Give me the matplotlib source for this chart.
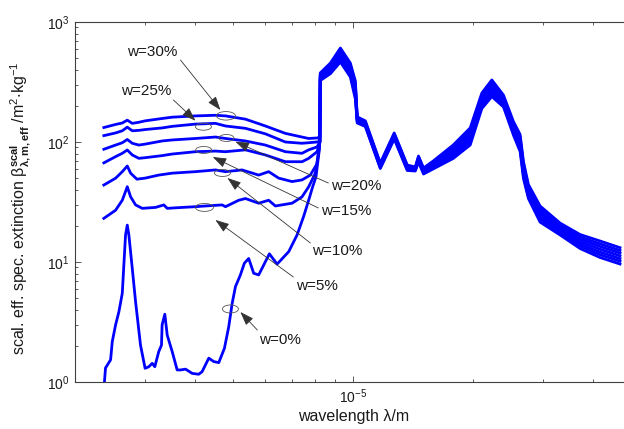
import numpy as np
import matplotlib
matplotlib.use('Agg')
import matplotlib.pyplot as plt
from matplotlib.patches import Ellipse
from matplotlib.transforms import ScaledTranslation
from matplotlib.ticker import LogLocator, NullFormatter, LogFormatterSciNotation

plt.rcParams['font.family'] = ['Liberation Sans', 'DejaVu Sans']
plt.rcParams['mathtext.fontset'] = 'custom'
plt.rcParams['mathtext.rm'] = 'Liberation Sans'
plt.rcParams['mathtext.it'] = 'Liberation Sans:italic'
plt.rcParams['mathtext.bf'] = 'Liberation Sans:bold'
plt.rcParams['mathtext.sf'] = 'Liberation Sans'
plt.rcParams['mathtext.default'] = 'regular'

# ---------------- data (wavelength in micrometres, beta in m^2/kg) ----------------
labels = ['w=0%', 'w=5%', 'w=10%', 'w=15%', 'w=20%', 'w=25%', 'w=30%']

# left part (below the ~8.25 um jump), individual per curve
wl0_left = [2.37, 2.386, 2.457, 2.481, 2.529, 2.578, 2.629, 2.653, 2.679, 2.706,
            2.731, 2.785, 2.839, 2.921, 3.0, 3.064, 3.126, 3.173, 3.246, 3.298,
            3.31, 3.362, 3.409, 3.509, 3.611, 3.681, 3.79, 3.938, 4.091, 4.172,
            4.335, 4.461, 4.593, 4.746, 4.866, 4.962, 5.058, 5.205, 5.326, 5.461,
            5.621, 5.785, 5.957, 6.155, 6.435, 6.884, 7.224, 7.504, 7.724, 7.905,
            8.06, 8.136, 8.217, 8.24]
w0_left = [0.98, 1.31, 1.53, 2.17, 2.99, 3.85, 5.49, 9.44, 16.8, 20.3,
           16.8, 8.85, 4.67, 2.03, 1.30, 1.34, 1.43, 1.34, 1.79, 2.03,
           2.99, 3.67, 2.46, 1.79, 1.26, 1.26, 1.28, 1.18, 1.16, 1.22,
           1.58, 1.48, 1.45, 1.91, 2.89, 4.5, 6.23, 7.8, 9.77, 10.7,
           8.06, 7.8, 9.44, 11.7, 9.6, 12.2, 16.8, 24, 32.7, 42.3,
           51.4, 66.4, 86, 105]

wl5_left = [2.363, 2.529, 2.629, 2.706, 2.758, 2.839, 2.951, 3.186, 3.343, 3.409,
            3.717, 4.014, 4.252, 4.685, 4.775, 5.155, 5.359, 5.785, 6.13, 6.372,
            7.018, 7.433, 7.724, 8.029, 8.145, 8.24]
w5_left = [23.1, 27, 32.7, 42.4, 35, 29.9, 28, 28.5, 29.9, 28,
           28.5, 28.9, 29.3, 29.9, 28.9, 32.7, 33.8, 30.9, 32.7, 29.3,
           30.9, 34.9, 42.3, 55, 75, 100]

wl10_left = [2.363, 2.529, 2.629, 2.706, 2.758, 2.861, 3.0, 3.246, 3.509, 4.014,
             4.506, 4.775, 5.257, 5.785, 6.13, 6.495, 7.018, 7.433, 7.8, 8.11, 8.24]
w10_left = [43.8, 49.9, 56.6, 63.1, 55, 49, 50, 53, 55, 56.6,
            58.5, 56.6, 58.5, 53, 56.6, 50, 46.8, 48.3, 53, 66, 100]

wl_hi_left = [2.363, 2.529, 2.629, 2.706, 2.785, 2.893, 3.0, 3.31, 3.509, 4.014,
              4.506, 4.775, 5.359, 6.013, 6.751, 7.433, 7.724, 8.11, 8.24]
w15_left = [67, 75.5, 80.5, 85.8, 78, 73.1, 74, 77, 79.4, 83, 84, 83, 86, 78, 68.5, 68.5, 73, 83, 100]
w20_left = [87, 94.3, 98.6, 105, 97.6, 94.3, 96, 102, 104, 107, 110, 107, 102, 94.3, 83, 80.5, 86, 91, 100]
w25_left = [113, 119, 124, 133, 124, 125, 127, 131, 135, 141, 143, 136, 130, 117, 100, 97.6, 98.6, 100, 102]
w30_left = [132, 140, 144, 152, 143, 146, 150, 157, 161, 165, 167, 165, 155, 136, 118, 110, 107, 108, 110]

# right part (above the jump), shared wavelength grid
wl_right = [8.26, 8.76, 9.28, 9.83, 10.12, 10.23, 10.72, 11.69, 12.67, 13.66,
            14.31, 14.58, 15.01, 15.87, 17.82, 19.66, 21.03, 22.28, 23.83, 25.25,
            26.24, 26.75, 27.53, 29.45, 33.06, 37.11, 41.66, 46.76]
w0_right = [325, 371, 464, 348, 228, 144, 134.6, 60.1, 106, 57.9, 57.3, 68.1, 54.1, 59.6,
            72.9, 94.4, 190, 239, 196, 114, 83.3, 49.6, 33.8, 21.5, 16.8, 12.96, 10.9, 9.62]
w5_right = [333.1, 384.1, 485.7, 364.3, 241.8, 146.9, 137.1, 61.2, 108.1, 58.9, 58.1, 69.4, 55.2, 61.2,
            76.2, 99.8, 199.9, 252.3, 203.7, 119.2, 88.1, 52.4, 35.4, 22.7, 17.5, 13.57, 11.5, 10.15]
w10_right = [341.0, 396.8, 507, 380.2, 255.5, 149.7, 139.5, 62.2, 110.1, 59.9, 58.8, 70.7, 56.2, 62.7,
             79.4, 105.2, 209.6, 265.6, 211.3, 124.2, 92.8, 55.3, 36.9, 23.8, 18.1, 14.16, 12.1, 10.67]
w15_right = [349.6, 411, 531, 398, 271, 153, 142, 63.4, 112.3, 61.0, 59.5, 72.1, 57.3, 64.3,
             83.0, 111.2, 220.5, 280.4, 219.6, 129.9, 98.1, 58.4, 38.7, 25.1, 18.8, 14.82, 12.77, 11.25]
w20_right = [358.3, 425.3, 555.5, 416.5, 287.4, 155.9, 144.7, 64.5, 114.5, 62.1, 60.3, 73.6, 58.4, 66.0,
             86.7, 117.6, 232.0, 296.1, 228.2, 135.8, 103.7, 61.7, 40.5, 26.5, 19.6, 15.51, 13.47, 11.87]
w25_right = [366.7, 439.4, 579.9, 434.7, 303.7, 158.8, 147.3, 65.6, 116.7, 63.2, 61.1, 74.9, 59.5, 67.6,
             90.3, 123.9, 243.3, 311.6, 236.7, 141.6, 109.3, 65.1, 42.2, 27.8, 20.3, 16.19, 14.17, 12.48]
w30_right = [376, 455, 607, 455, 322, 162, 150, 66.8, 119, 64.3, 61.9, 76.4, 60.7, 69.4,
             94.4, 131, 256, 329, 246, 148, 115.5, 68.8, 44.2, 29.3, 21.1, 16.95, 14.96, 13.16]

curves = [
    (wl0_left, w0_left, w0_right),
    (wl5_left, w5_left, w5_right),
    (wl10_left, w10_left, w10_right),
    (wl_hi_left, w15_left, w15_right),
    (wl_hi_left, w20_left, w20_right),
    (wl_hi_left, w25_left, w25_right),
    (wl_hi_left, w30_left, w30_right),
]

# annotation layout: (ellipse centre, arrow tip, arrow tail, text centre), in (um, beta)
ann_ellipse = [(4.913, 4.06), (4.228, 28.5), (4.692, 55.2), (4.210, 85.8), (4.802, 108), (4.203, 134.1), (4.787, 165.3)]
ann_tip = [(5.205, 3.83), (4.506, 22.4), (4.83, 50.1), (4.436, 75), (5.058, 100.6), (4.014, 150.5), (4.637, 184.8)]
ann_tail = [(5.742, 2.71), (7.071, 7.5), (7.8, 14.4), (8.169, 28.2), (8.656, 45.5), (3.534, 223.9), (3.681, 482)]
ann_text = [(6.558, 2.24), (8.122, 6.31), (9.117, 12.35), (9.604, 26.6), (10.17, 43.0), (3.025, 263.6), (3.131, 562)]
ann_ellipse_px = [(16, 8), (18, 8), (16, 7), (16, 7), (15, 7), (16, 7), (19, 8.5)]

um = 1e-6
DPI = 100
fig = plt.figure(figsize=(6.24, 4.29), dpi=DPI)
ax = fig.add_axes([75 / 624, 47 / 429, 556.6 / 624, 360 / 429])

for wl_l, v_l, v_r in curves:
    x = np.concatenate([np.array(wl_l), np.array(wl_right)]) * um
    y = np.concatenate([np.array(v_l), np.array(v_r)])
    ax.plot(x, y, color='#0000ff', lw=2.0, solid_joinstyle='round', zorder=2)

ax.set_xscale('log')
ax.set_yscale('log')
ax.set_xlim(2e-6, 5e-5)
ax.set_ylim(1, 1000)

ax.xaxis.set_major_locator(LogLocator(base=10, numticks=10))
ax.xaxis.set_minor_locator(LogLocator(base=10, subs=np.arange(2, 10), numticks=20))
ax.yaxis.set_major_locator(LogLocator(base=10, numticks=10))
ax.yaxis.set_minor_locator(LogLocator(base=10, subs=np.arange(2, 10), numticks=20))
ax.xaxis.set_major_formatter(LogFormatterSciNotation())
ax.xaxis.set_minor_formatter(NullFormatter())
ax.yaxis.set_minor_formatter(NullFormatter())

axc = '#404040'
for s in ax.spines.values():
    s.set_color(axc)
    s.set_linewidth(0.8)
ax.tick_params(which='both', direction='in', top=True, right=True, color=axc,
               labelcolor='#1a1a1a', labelsize=10, width=0.6)
ax.tick_params(which='major', length=4.5)
ax.tick_params(which='minor', length=2.5)
ax.tick_params(axis='y', pad=4)
ax.tick_params(axis='x', pad=4)

ax.set_xlabel('wavelength λ/m', fontsize=11.5, color='#1a1a1a')
ax.set_ylabel(r'scal. eff. spec. extinction $\beta^{\mathbf{scal}}_{\mathbf{\lambda,m,eff}}$ /m$^{2}$$\cdot$kg$^{-1}$',
              fontsize=11.5, color='#1a1a1a')
ax.yaxis.set_label_coords(-0.075, 0.483)
ax.xaxis.set_label_coords(0.5, -0.075)

for i in range(len(labels)):
    ex, ey = ann_ellipse[i]
    tr = fig.dpi_scale_trans + ScaledTranslation(ex * um, ey, ax.transData)
    w_px, h_px = ann_ellipse_px[i]
    e = Ellipse((0, 0), w_px / DPI, h_px / DPI, transform=tr, fill=False,
                ec='#555555', lw=0.6, zorder=3)
    ax.add_patch(e)
    tx, ty = ann_tip[i]
    sx, sy = ann_tail[i]
    ax.annotate('', xy=(tx * um, ty), xytext=(sx * um, sy),
                arrowprops=dict(arrowstyle='-|>,head_length=0.7,head_width=0.25',
                                color='#333333', lw=0.6, shrinkA=0, shrinkB=0,
                                mutation_scale=12), zorder=4)
    px, py = ann_text[i]
    ax.text(px * um, py, labels[i], ha='center', va='center', fontsize=11,
            color='#1a1a1a', zorder=5)

ax.set_xlim(2e-6, 5e-5)
ax.set_ylim(1, 1000)
fig.savefig('out.png', dpi=DPI)
